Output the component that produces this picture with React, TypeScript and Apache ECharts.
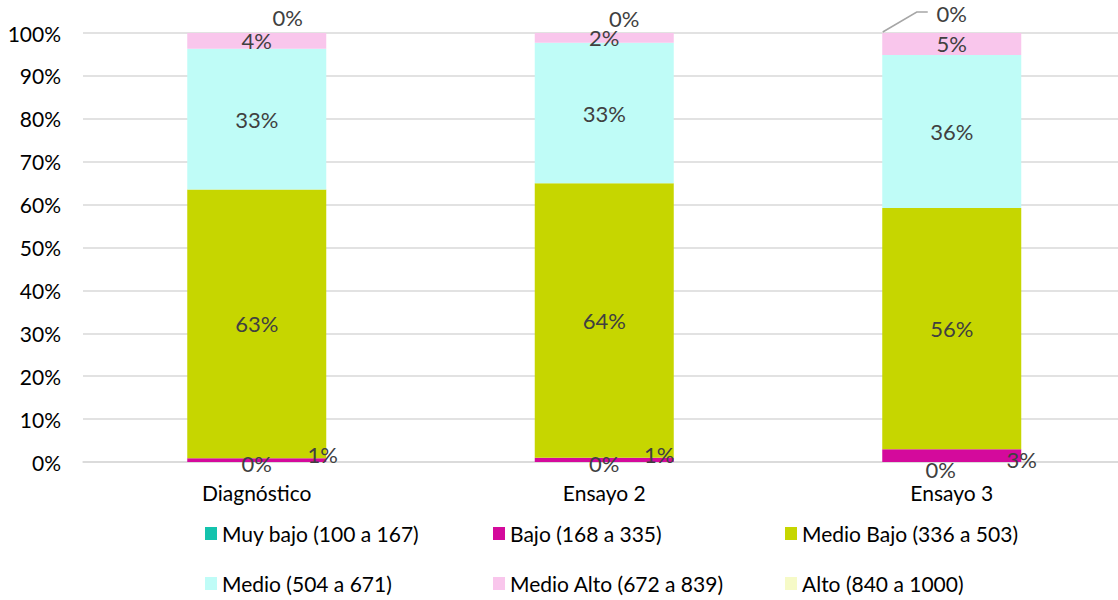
import React, { useEffect, useRef } from "react";
import * as echarts from "echarts";

const categories = ["Diagnóstico", "Ensayo 2", "Ensayo 3"];
const seriesNames = [
  "Muy bajo (100 a 167)",
  "Bajo (168 a 335)",
  "Medio Bajo (336 a 503)",
  "Medio (504 a 671)",
  "Medio Alto (672 a 839)",
  "Alto (840 a 1000)",
];
const muyBajo = [0, 0, 0];
const bajo = [0.9, 1.0, 3.0];
const medioBajo = [62.6, 64.0, 56.2];
const medio = [32.8, 32.7, 35.7];
const medioAlto = [3.7, 2.3, 5.1];
const alto = [0, 0, 0];
const yTicks = { min: 0, max: 100, interval: 10 };

const colors = ["#14c3ad", "#d40a9c", "#c6d600", "#bffcf7", "#f9c6ec", "#f6fac7"];

// label offsets (styling only)
const offsets: (number[][] | null)[] = [
  [[0, 1], [0, 1], [-11, 7]],
  [[66, -6], [55, -5], [70, 4]],
  null,
  null,
  null,
  [[31, -16], [20, -15], [0, -20]],
];

const legendPos = [
  [200, 518],
  [488, 518],
  [780, 518],
  [200, 568],
  [488, 568],
  [780, 568],
];

const FONT = "Lato, 'Noto Sans', sans-serif";

export default function App() {
  const ref = useRef<HTMLDivElement>(null);
  useEffect(() => {
    if (!ref.current) return;
    const chart = echarts.init(ref.current, null, { renderer: "svg" });
    const allData = [muyBajo, bajo, medioBajo, medio, medioAlto, alto];
    const series = allData.map((vals, si) => ({
      name: seriesNames[si],
      type: "bar",
      stack: "total",
      barWidth: 139,
      itemStyle: { color: colors[si] },
      label: {
        show: true,
        position: "inside",
        color: "#404040",
        fontSize: 22,
        fontFamily: FONT,
        formatter: (p: any) => Math.round(p.value) + "%",
      },
      data: vals.map((v, i) => {
        const off = offsets[si];
        return off ? { value: v, label: { offset: off[i] } } : { value: v };
      }),
    }));
    const legends = seriesNames.map((n, i) => ({
      data: [n],
      left: legendPos[i][0],
      top: legendPos[i][1],
      icon: "rect",
      itemWidth: 12,
      itemHeight: 13,
      textStyle: { fontSize: 21, color: "#000", fontFamily: FONT },
      selectedMode: false,
    }));
    chart.setOption({
      animation: false,
      textStyle: { fontFamily: FONT },
      grid: { left: 83, top: 33, width: 1042.5, height: 429, containLabel: false },
      legend: legends,
      xAxis: {
        type: "category",
        data: categories,
        axisLine: { lineStyle: { color: "#d9d9d9", width: 1.5 } },
        axisTick: { show: false },
        axisLabel: { color: "#000", fontSize: 21, margin: 20, fontFamily: FONT },
      },
      yAxis: {
        type: "value",
        min: yTicks.min,
        max: yTicks.max,
        interval: yTicks.interval,
        axisLine: { show: false },
        axisTick: { show: false },
        splitLine: { lineStyle: { color: "#d9d9d9", width: 1.5 } },
        axisLabel: { formatter: "{value}%", color: "#000", fontSize: 21, margin: 22, fontFamily: FONT },
      },
      series,
    });
    // leader line for the Ensayo 3 "Alto" label
    const top = chart.convertToPixel({ xAxisIndex: 0, yAxisIndex: 0 }, [2, 100]) as number[];
    if (top) {
      const [x, y] = top;
      chart.setOption({
        graphic: [
          {
            type: "polyline",
            shape: { points: [[x - 69, y - 1], [x - 35, y - 21], [x - 24, y - 21]] },
            style: { stroke: "#a6a6a6", lineWidth: 1.5, fill: "none" },
            silent: true,
          },
        ],
      });
    }
    return () => chart.dispose();
  }, []);
  return (
    <div
      style={{ position: "absolute", left: 0, top: 0, width: 1118, height: 600, overflow: "hidden", background: "#fff" }}
    >
      <div ref={ref} style={{ width: 1130, height: 600 }} />
    </div>
  );
}
